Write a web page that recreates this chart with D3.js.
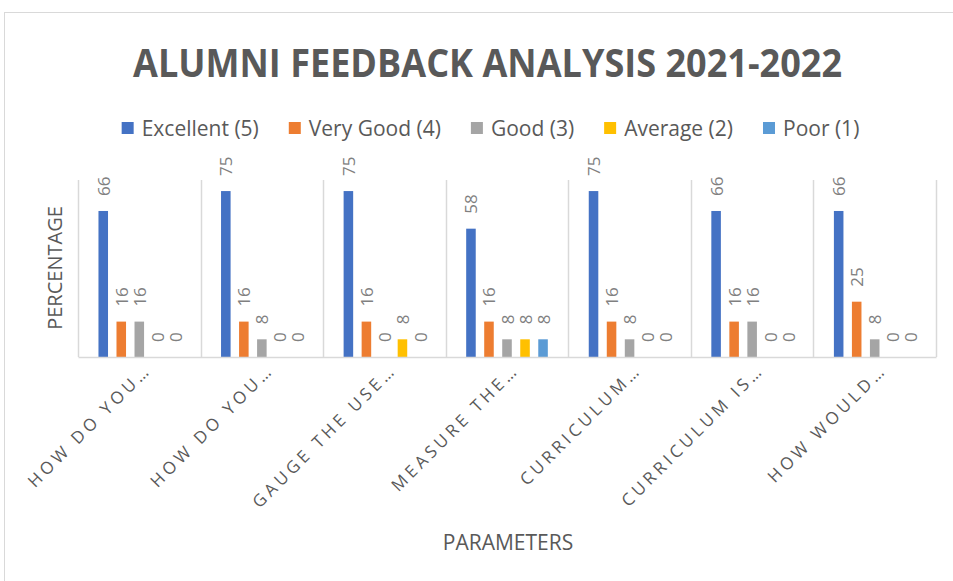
<!DOCTYPE html>
<html>
<head>
<meta charset="utf-8">
<script src="https://cdn.jsdelivr.net/npm/d3@7"></script>
<style>
  body { margin: 0; background: #fff; }
  svg { display: block; }
  text { font-family: "Open Sans", "DejaVu Sans", sans-serif; }
</style>
</head>
<body>
<div id="chart"></div>
<script>
"use strict";

// --- data ---
const categories = ["HOW DO YOU…", "HOW DO YOU…", "GAUGE THE USE…", "MEASURE THE…",
                    "CURRICULUM…", "CURRICULUM IS…", "HOW WOULD…"]
const seriesNames = ["Excellent (5)", "Very Good (4)", "Good (3)", "Average (2)", "Poor (1)"]
const excellent = [66, 75, 75, 58, 75, 66, 66]
const veryGood  = [16, 16, 16, 16, 16, 16, 25]
const good      = [16,  8,  0,  8,  8, 16,  8]
const average   = [ 0,  0,  8,  8,  0,  0,  0]
const poor      = [ 0,  0,  0,  8,  0,  0,  0]
const yTicks    = [0, 80]

const seriesColors = ["#4472C4", "#ED7D31", "#A5A5A5", "#FFC000", "#5B9BD5"]
const seriesValues = [excellent, veryGood, good, average, poor]

const W = 953, H = 581
const plot = { left: 78, right: 936, top: 180, bottom: 357 }

const svg = d3.select("#chart").append("svg")
    .attr("width", W)
    .attr("height", H)

// chart frame
svg.append("rect")
    .attr("x", 4.5).attr("y", 12.5)
    .attr("width", 960).attr("height", 600)
    .attr("fill", "#fff")
    .attr("stroke", "#d9d9d9")

// category index keys so duplicate labels stay separate bands
const keys = categories.map((c, i) => i)

const x0 = d3.scaleBand()
    .domain(keys)
    .range([plot.left, plot.right])
    .padding(0)

const groupPad = x0.bandwidth() * 0.167
const x1 = d3.scaleBand()
    .domain(seriesNames)
    .range([groupPad, x0.bandwidth() - groupPad])
    .paddingInner(0.47)
    .paddingOuter(0)

const y = d3.scaleLinear()
    .domain(d3.extent(yTicks))
    .range([plot.bottom, plot.top])

// vertical gridlines at category boundaries
const bounds = keys.map(k => x0(k)).concat([x0(keys[keys.length - 1]) + x0.bandwidth()])
svg.append("g")
    .selectAll("line")
    .data(bounds)
    .join("line")
    .attr("x1", d => Math.round(d) + 0.5)
    .attr("x2", d => Math.round(d) + 0.5)
    .attr("y1", y(80))
    .attr("y2", y(0))
    .attr("stroke", "#d9d9d9")
    .attr("stroke-width", 1.5)

// bars
const rows = []
keys.forEach(k => {
    seriesNames.forEach((s, j) => {
        rows.push({ k: k, s: s, j: j, v: seriesValues[j][k] })
    })
})

const barG = svg.append("g")
barG.selectAll("rect")
    .data(rows)
    .join("rect")
    .attr("x", d => x0(d.k) + x1(d.s))
    .attr("width", x1.bandwidth())
    .attr("y", d => y(d.v))
    .attr("height", d => y(0) - y(d.v))
    .attr("fill", d => seriesColors[d.j])

// value labels (rotated)
barG.selectAll("text")
    .data(rows)
    .join("text")
    .attr("transform", d => {
        const cx = x0(d.k) + x1(d.s) + x1.bandwidth() / 2
        return "translate(" + cx + "," + (y(d.v) - 15) + ") rotate(-90)"
    })
    .attr("dominant-baseline", "central")
    .attr("font-size", 17)
    .attr("fill", "#808080")
    .text(d => d.v)

// x axis
const xAxis = d3.axisBottom(x0)
    .tickSize(0)
    .tickPadding(0)
    .tickFormat(k => categories[k])

const axG = svg.append("g")
    .attr("transform", "translate(0," + y(0) + ")")
    .call(xAxis)

axG.select(".domain")
    .attr("stroke", "#d9d9d9")
    .attr("stroke-width", 1.5)

axG.selectAll(".tick text")
    .attr("font-family", "\"Open Sans\", sans-serif")
    .attr("font-size", 17)
    .attr("letter-spacing", "3.8px")
    .attr("fill", "#595959")
    .attr("text-anchor", "end")
    .attr("dy", null)
    .attr("y", 0)
    .attr("transform", "translate(13,14) rotate(-45)")

// axis titles
svg.append("text")
    .attr("transform", "translate(62,268) rotate(-90)")
    .attr("text-anchor", "middle")
    .attr("font-size", 20)
    .attr("fill", "#595959")
    .text("PERCENTAGE")

svg.append("text")
    .attr("x", 508)
    .attr("y", 550)
    .attr("text-anchor", "middle")
    .attr("font-size", 21)
    .attr("fill", "#595959")
    .text("PARAMETERS")

// title
svg.append("text")
    .attr("x", 487.5)
    .attr("y", 77)
    .attr("text-anchor", "middle")
    .attr("font-family", "\"Liberation Sans Narrow\", \"Open Sans\", sans-serif")
    .attr("font-weight", "bold")
    .attr("font-size", 40)
    .attr("fill", "#595959")
    .attr("textLength", 709)
    .attr("lengthAdjust", "spacingAndGlyphs")
    .text("ALUMNI FEEDBACK ANALYSIS 2021-2022")

// legend
const legend = svg.append("g")
const items = legend.selectAll("g")
    .data(seriesNames)
    .join("g")

items.append("rect")
    .attr("width", 12)
    .attr("height", 12)
    .attr("y", -6)
    .attr("fill", (d, i) => seriesColors[i])

items.append("text")
    .attr("x", 20)
    .attr("dominant-baseline", "central")
    .attr("font-size", 21)
    .attr("fill", "#595959")
    .text(d => d)

let lx = 0
items.each(function () {
    const g = d3.select(this)
    g.attr("transform", "translate(" + lx + ",0)")
    const tw = g.select("text").node().getComputedTextLength()
    lx += 20 + tw + 30
})
const legendW = lx - 30
legend.attr("transform", "translate(" + (490.5 - legendW / 2) + ",128)")
</script>
</body>
</html>
